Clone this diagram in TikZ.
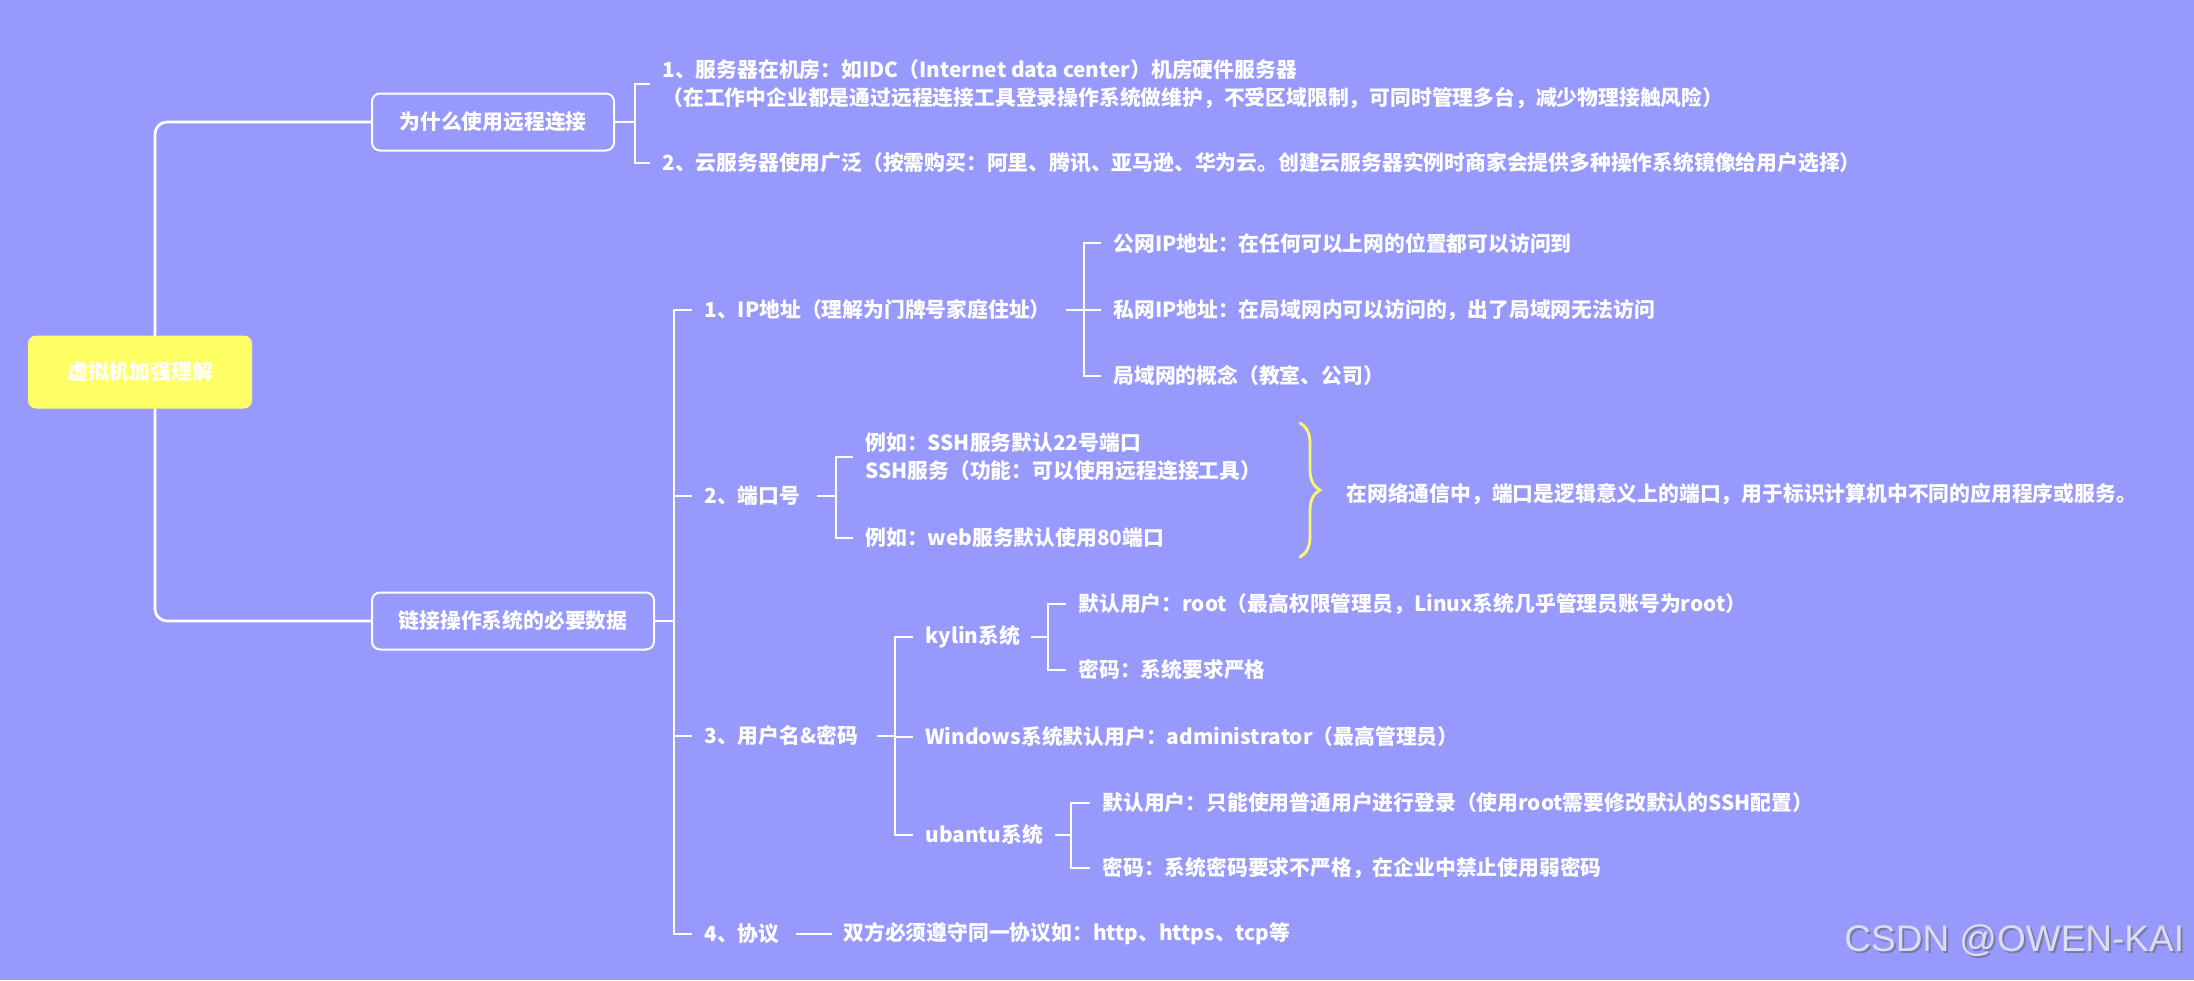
\documentclass[tikz,border=0pt]{standalone}
\usepackage{fontspec}
\setmainfont{Noto Sans CJK SC}
\newfontfamily\wmfont{Liberation Sans}
\usetikzlibrary{decorations.pathreplacing,calc}
\definecolor{bg}{RGB}{151,153,253}
\definecolor{rooty}{RGB}{255,255,102}
\definecolor{bracey}{RGB}{250,248,110}
\definecolor{wm}{RGB}{220,221,240}
\definecolor{wmshadow}{RGB}{120,122,170}
\begin{document}
\begin{tikzpicture}[x=0.5pt,y=-0.5pt,
  txt/.style={text=white,font=\bfseries\fontsize{10.4}{14}\selectfont,anchor=west,inner sep=0pt,align=left},
  topic/.style={draw=white,line width=1pt,rounded corners=4pt,text=white,font=\bfseries\fontsize{10.4}{14}\selectfont,minimum height=28.5pt,inner sep=0pt},
  ln/.style={draw=white,line width=1.4pt}]
\fill[bg] (0,0) rectangle (2194,980);
\useasboundingbox (0,0) rectangle (2194,980);

% main topics
\node[topic,minimum width=121pt] (b1) at (493,122) {为什么使用远程连接};
\node[topic,minimum width=141pt] (b2) at (513,621) {链接操作系统的必要数据};
\coordinate (tk) at (155,0);
\draw[ln,rounded corners=6pt] (b1.west) -- (b1.west -| tk) -- (b2.west -| tk) -- (b2.west);
\node[fill=rooty,rounded corners=4pt,minimum width=112pt,minimum height=36.5pt,text=white,font=\bfseries\fontsize{10.4}{14}\selectfont] (root) at (140,372) {虚拟机加强理解};

% branch 1
\node[txt] (a1) at (662,84) {1、服务器在机房：如IDC（Internet data center）机房硬件服务器\\（在工作中企业都是通过远程连接工具登录操作系统做维护，不受区域限制，可同时管理多台，减少物理接触风险）};
\node[txt] (a2) at (662,163) {2、云服务器使用广泛（按需购买：阿里、腾讯、亚马逊、华为云。创建云服务器实例时商家会提供多种操作系统镜像给用户选择）};
\coordinate (ba) at (635,0);
\draw[ln] (b1.east) -- (b1.east -| ba);
\draw[ln] ([xshift=-6pt]a1.west) -- (a1.west -| ba) -- (a2.west -| ba) -- ([xshift=-6pt]a2.west);

% branch 2
\node[txt] (c1) at (704,310) {1、IP地址（理解为门牌号家庭住址）};
\node[txt] (c2) at (704,496) {2、端口号};
\node[txt] (c3) at (704,736) {3、用户名\&密码};
\node[txt] (c4) at (704,934) {4、协议};
\coordinate (bb) at (674,0);
\draw[ln] (b2.east) -- (b2.east -| bb);
\draw[ln] ([xshift=-6pt]c1.west) -- (c1.west -| bb) -- (c4.west -| bb) -- ([xshift=-6pt]c4.west);
\draw[ln] (c2.west -| bb) -- ([xshift=-6pt]c2.west);
\draw[ln] (c3.west -| bb) -- ([xshift=-6pt]c3.west);

% IP
\node[txt] (i1) at (1113,243) {公网IP地址：在任何可以上网的位置都可以访问到};
\node[txt] (i2) at (1113,310) {私网IP地址：在局域网内可以访问的，出了局域网无法访问};
\node[txt] (i3) at (1113,376) {局域网的概念（教室、公司）};
\coordinate (bi) at (1084,0);
\draw[ln] ($(c1.east -| bi)+(-9pt,0)$) -- (c1.east -| bi);
\draw[ln] ([xshift=-6pt]i1.west) -- (i1.west -| bi) -- (i3.west -| bi) -- ([xshift=-6pt]i3.west);
\draw[ln] (i2.west -| bi) -- ([xshift=-6pt]i2.west);

% port
\node[txt] (d1) at (865,457) {例如：SSH服务默认22号端口\\SSH服务（功能：可以使用远程连接工具）};
\node[txt] (d2) at (865,538) {例如：web服务默认使用80端口};
\coordinate (bd) at (836,0);
\draw[ln] ($(c2.east -| bd)+(-9.5pt,0)$) -- (c2.east -| bd);
\draw[ln] ([xshift=-6pt]d1.west) -- (d1.west -| bd) -- (d2.west -| bd) -- ([xshift=-6pt]d2.west);
\coordinate (brt) at (1300,423);
\coordinate (brb) at (1300,557);
\draw[bracey,line width=1.4pt,line cap=round,decorate,decoration={brace,amplitude=10pt}] (brt) -- (brb);
\node[txt] (pe) at (1346,494) {在网络通信中，端口是逻辑意义上的端口，用于标识计算机中不同的应用程序或服务。};

% user
\node[txt] (e1) at (925,637) {kylin系统};
\node[txt] (e2) at (925,737) {Windows系统默认用户：administrator（最高管理员）};
\node[txt] (e3) at (925,835) {ubantu系统};
\coordinate (be) at (895,0);
\draw[ln] ($(c3.east -| be)+(-9pt,0)$) -- (c3.east -| be);
\draw[ln] ([xshift=-6pt]e1.west) -- (e1.west -| be) -- (e3.west -| be) -- ([xshift=-6pt]e3.west);
\draw[ln] (e2.west -| be) -- ([xshift=-6pt]e2.west);

\node[txt] (k1) at (1078,604) {默认用户：root（最高权限管理员，Linux系统几乎管理员账号为root）};
\node[txt] (k2) at (1078,670) {密码：系统要求严格};
\coordinate (bk) at (1048,0);
\draw[ln] ($(e1.east -| bk)+(-8.5pt,0)$) -- (e1.east -| bk);
\draw[ln] ([xshift=-6pt]k1.west) -- (k1.west -| bk) -- (k2.west -| bk) -- ([xshift=-6pt]k2.west);

\node[txt] (u1) at (1102,803) {默认用户：只能使用普通用户进行登录（使用root需要修改默认的SSH配置）};
\node[txt] (u2) at (1102,868) {密码：系统密码要求不严格，在企业中禁止使用弱密码};
\coordinate (bu) at (1071,0);
\draw[ln] ($(e3.east -| bu)+(-8pt,0)$) -- (e3.east -| bu);
\draw[ln] ([xshift=-6pt]u1.west) -- (u1.west -| bu) -- (u2.west -| bu) -- ([xshift=-6pt]u2.west);

% protocol
\node[txt] (f1) at (843,934) {双方必须遵守同一协议如：http、https、tcp等};
\draw[ln] ([xshift=-23.5pt]f1.west) -- ([xshift=-5.5pt]f1.west);

% watermark
\node[anchor=west,inner sep=0pt,text=wmshadow,font=\wmfont\fontsize{18.5}{22}\selectfont] (wms) at (1846,943) {CSDN @OWEN-KAI};
\node[anchor=west,inner sep=0pt,text=wm,font=\wmfont\fontsize{18.5}{22}\selectfont] (wmk) at (1844,941) {CSDN @OWEN-KAI};
\end{tikzpicture}
\end{document}
